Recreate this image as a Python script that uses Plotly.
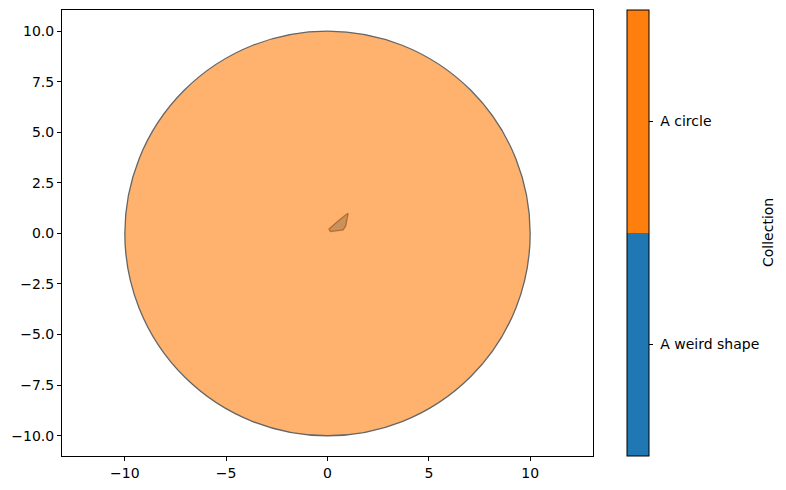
import plotly.graph_objects as go

# Data
categories = ["A weird shape", "A circle"]
colors = ["#1f77b4", "#ff7f0e"]
circle_center = (0.0, 0.0)
circle_radius = 10.0
weird_x = [0.06, 0.15, 0.77, 0.90, 1.02, 0.89, 0.48, 0.18, 0.06]
weird_y = [0.21, 0.09, 0.17, 0.37, 1.00, 0.91, 0.58, 0.34, 0.21]
x_ticks = [-10, -5, 0, 5, 10]
y_ticks = [-10, -7.5, -5, -2.5, 0, 2.5, 5, 7.5, 10]
colorbar_title = "Collection"

FONT = dict(family="DejaVu Sans", size=14, color="#000000")

fig = go.Figure()

# Weird shape (drawn below the circle)
fig.add_trace(go.Scatter(
    x=weird_x, y=weird_y, mode="lines", fill="toself",
    fillcolor="rgba(31,119,180,0.6)",
    line=dict(color="rgba(0,0,0,0.6)", width=1.3),
    hoverinfo="skip", showlegend=False,
))

# Circle shape above
cx, cy = circle_center
fig.add_shape(
    type="circle", xref="x", yref="y",
    x0=cx - circle_radius, x1=cx + circle_radius,
    y0=cy - circle_radius, y1=cy + circle_radius,
    fillcolor=colors[1], line=dict(color="black", width=1.3),
    opacity=0.6, layer="above",
)

PW = 531  # plot width in px

# Colorbar dummy trace
fig.add_trace(go.Scatter(
    x=[1000, 1000], y=[1000, 1000], mode="markers",
    marker=dict(
        color=[0, 2], cmin=0, cmax=2,
        colorscale=[[0, colors[0]], [0.5, colors[0]], [0.5, colors[1]], [1, colors[1]]],
        showscale=True,
        colorbar=dict(
            tickvals=[0.5, 1.5], ticktext=[" " + c for c in categories],
            ticks="outside", ticklen=4, tickwidth=1, tickcolor="black",
            outlinewidth=1, outlinecolor="black",
            thickness=22, thicknessmode="pixels",
            len=1, lenmode="fraction", y=0.5, yanchor="middle",
            x=(627 - 62) / PW, xanchor="left", xpad=0, ypad=0,
            tickfont=FONT,
        ),
    ),
    hoverinfo="skip", showlegend=False,
))

fig.add_annotation(
    text=colorbar_title, xref="paper", yref="paper",
    x=(768 - 62) / PW, y=0.5, xanchor="center", yanchor="middle",
    textangle=-90, showarrow=False, font=FONT,
)

axis_common = dict(
    showgrid=False, zeroline=False, showline=True, linecolor="black", linewidth=1,
    mirror=True, ticks="outside", ticklen=4, tickwidth=1, tickcolor="black",
    tickfont=FONT,
)

fig.update_layout(
    width=786, height=490,
    margin=dict(l=54, r=201, t=2, b=42),
    paper_bgcolor="white", plot_bgcolor="white",
    font=FONT,
    xaxis=dict(range=[-13.1, 13.1], tickvals=x_ticks, **axis_common),
    yaxis=dict(range=[-11.0, 11.04], tickvals=y_ticks, tickformat=".1f", **axis_common),
)

fig.write_html("out.html")
